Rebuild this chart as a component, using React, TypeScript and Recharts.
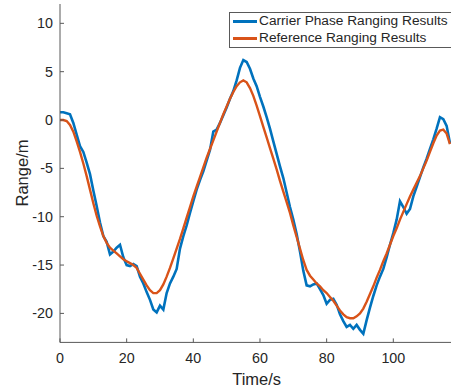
import React from 'react';
import { LineChart, Line, XAxis, YAxis, Legend, Label } from 'recharts';

// time axis, one sample per second
const timeS: number[] = Array.from({ length: 118 }, (_, i) => i);

// measured range from carrier phase (noisy)
const carrierPhase: number[] = [
  0.8, 0.8, 0.7, 0.6, -0.3, -1.5, -2.7, -3.3, -4.4, -5.6,
  -7.3, -8.9, -10.6, -12.0, -12.6, -13.9, -13.6, -13.2, -12.9, -14.2,
  -15.0, -15.1, -14.9, -15.1, -16.2, -16.9, -17.8, -18.6, -19.6, -19.9,
  -19.2, -19.6, -17.9, -16.9, -16.2, -15.4, -13.3, -12.0, -10.9, -9.6,
  -8.4, -7.2, -6.2, -5.3, -4.2, -3.1, -1.2, -1.0, -0.3, 0.5,
  1.3, 2.2, 3.0, 4.1, 5.4, 6.2, 6.0, 5.3, 4.3, 3.5,
  2.4, 1.4, 0.3, -0.9, -2.2, -3.5, -4.8, -6.0, -7.5, -9.0,
  -10.3, -11.8, -13.6, -15.6, -17.1, -17.2, -17.0, -16.9, -17.5, -18.1,
  -19.0, -18.6, -18.5, -19.1, -20.1, -20.8, -21.4, -21.2, -21.6, -21.2,
  -21.7, -22.1, -20.7, -19.4, -18.2, -17.1, -16.2, -15.4, -14.2, -12.9,
  -11.7, -10.3, -8.4, -9.0, -9.7, -9.2, -7.9, -6.9, -5.9, -4.9,
  -4.0, -3.0, -2.0, -0.9, 0.3, 0.1, -0.6, -2.4,
];

// reference range (smooth)
const reference: number[] = [
  0.0, 0.0, -0.1, -0.5, -1.2, -2.2, -3.3, -4.5, -5.8, -7.2,
  -8.6, -9.9, -11.0, -12.0, -12.7, -13.2, -13.5, -13.8, -14.1, -14.4,
  -14.6, -14.8, -15.0, -15.3, -15.9, -16.5, -17.1, -17.6, -17.9, -17.9,
  -17.6, -17.0, -16.2, -15.3, -14.3, -13.3, -12.3, -11.2, -10.1, -9.0,
  -7.9, -6.9, -5.9, -4.9, -3.9, -3.0, -2.1, -1.2, -0.3, 0.6,
  1.4, 2.2, 2.9, 3.5, 3.9, 4.1, 3.9, 3.3, 2.5, 1.5,
  0.4, -0.7, -1.8, -2.9, -4.0, -5.1, -6.3, -7.4, -8.5, -9.6,
  -10.9, -12.1, -13.3, -14.5, -15.5, -16.1, -16.5, -16.9, -17.2, -17.6,
  -17.9, -18.3, -18.7, -19.2, -19.7, -20.1, -20.4, -20.5, -20.5, -20.3,
  -20.0, -19.5, -18.8, -18.0, -17.2, -16.3, -15.5, -14.6, -13.8, -12.9,
  -12.0, -11.2, -10.3, -9.5, -8.7, -7.9, -7.2, -6.5, -5.8, -5.0,
  -4.2, -3.3, -2.4, -1.6, -1.1, -1.0, -1.4, -2.5,
];

const xTicks = [0, 20, 40, 60, 80, 100];
const yTicks = [-20, -15, -10, -5, 0, 5, 10];
const seriesNames = ['Carrier Phase Ranging Results', 'Reference Ranging Results'];

const data = timeS.map((t, i) => ({ t, carrier: carrierPhase[i], ref: reference[i] }));

const FONT = '"Liberation Sans", Arial, sans-serif';
const TEXT = '#262626';
const AXIS = '#595959';
const BLUE = '#0072BD';
const ORANGE = '#D95319';

// MATLAB style ticks point into the plot
const XTick = (props: any) => {
  const { x, y, payload } = props;
  return (
    <g>
      <line x1={x} y1={y} x2={x} y2={y - 4} stroke={AXIS} strokeWidth={1} />
      <text x={x} y={y + 21} textAnchor="middle" fill={TEXT} fontSize={14.3} fontFamily={FONT}>
        {payload.value}
      </text>
    </g>
  );
};

const YTick = (props: any) => {
  const { x, y, payload } = props;
  return (
    <g>
      <line x1={x} y1={y} x2={x + 4} y2={y} stroke={AXIS} strokeWidth={1} />
      <text x={x - 7} y={y + 5} textAnchor="end" fill={TEXT} fontSize={14.3} fontFamily={FONT}>
        {payload.value}
      </text>
    </g>
  );
};

const renderLegend = () => (
  <div
    style={{
      width: 223,
      height: 35.5,
      boxSizing: 'border-box',
      border: `1px solid ${AXIS}`,
      background: '#fff',
      fontFamily: FONT,
      fontSize: 13.7,
      lineHeight: '16.6px',
      color: TEXT,
    }}
  >
    {seriesNames.map((name, i) => (
      <div key={name} style={{ display: 'flex', alignItems: 'center', height: 16.6, whiteSpace: 'nowrap' }}>
        <span
          style={{
            display: 'inline-block',
            flexShrink: 0,
            width: 24,
            height: 3,
            marginLeft: 3,
            marginRight: 2,
            background: i === 0 ? BLUE : ORANGE,
          }}
        />
        <span style={{ flexShrink: 0 }}>{name}</span>
      </div>
    ))}
  </div>
);

export default function App() {
  return (
    <div style={{ position: 'absolute', left: 0, top: 0, width: 451, height: 391, overflow: 'hidden', background: '#fff' }}>
      <LineChart width={456} height={391} data={data} margin={{ top: 4, right: 2.7, bottom: 0, left: 0 }}>
        <XAxis
          dataKey="t"
          type="number"
          domain={[0, 118]}
          ticks={xTicks}
          allowDataOverflow
          height={48.6}
          stroke={AXIS}
          tickLine={false}
          tickSize={0}
          tickMargin={0}
          tick={<XTick />}
        >
          <Label
            content={(p: any) => (
              <text
                x={p.viewBox.x + p.viewBox.width / 2}
                y={385}
                textAnchor="middle"
                fill={TEXT}
                fontSize={16.5}
                fontFamily={FONT}
              >
                Time/s
              </text>
            )}
          />
        </XAxis>
        <YAxis
          type="number"
          domain={[-23, 12]}
          ticks={yTicks}
          allowDataOverflow
          width={60}
          stroke={AXIS}
          tickLine={false}
          tickSize={0}
          tickMargin={0}
          tick={<YTick />}
        >
          <Label
            content={() => (
              <text
                x={22}
                y={173}
                transform="rotate(-90 22 173)"
                textAnchor="middle"
                dominantBaseline="central"
                fill={TEXT}
                fontSize={16.5}
                fontFamily={FONT}
              >
                Range/m
              </text>
            )}
          />
        </YAxis>
        <Legend
          layout="horizontal"
          align="center"
          verticalAlign="middle"
          content={renderLegend}
          wrapperStyle={{ position: 'absolute', left: 229, top: 12.3, width: 223, height: 35.5 }}
        />
        <Line
          dataKey="carrier"
          name={seriesNames[0]}
          stroke={BLUE}
          strokeWidth={2.6}
          dot={false}
          isAnimationActive={false}
        />
        <Line
          dataKey="ref"
          name={seriesNames[1]}
          stroke={ORANGE}
          strokeWidth={2.4}
          dot={false}
          isAnimationActive={false}
        />
      </LineChart>
    </div>
  );
}
